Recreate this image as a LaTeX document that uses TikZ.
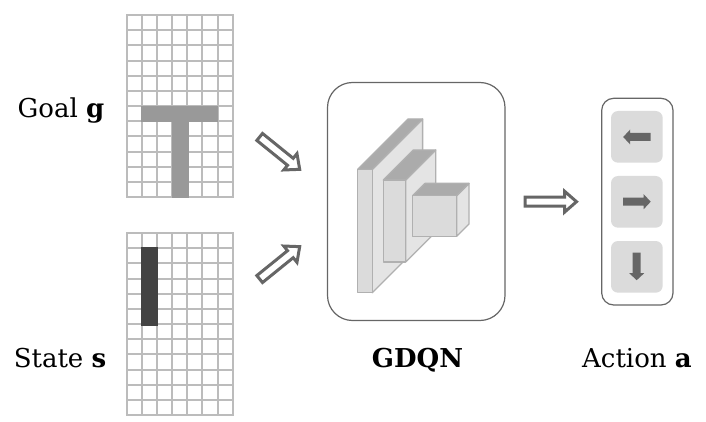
\documentclass[tikz,border=0pt]{standalone}
\usepackage{fontspec}
\setmainfont{DejaVu Serif}
\definecolor{gridc}{HTML}{B0B0B0}
\definecolor{gridsoft}{HTML}{BCBCBC}
\definecolor{arrowc}{HTML}{666666}
\definecolor{frontc}{HTML}{DBDBDB}
\definecolor{sidec}{HTML}{E4E4E4}
\definecolor{topc}{HTML}{ABABAB}
\definecolor{goalc}{HTML}{999999}
\definecolor{statec}{HTML}{434343}
\tikzset{
  lbl/.style={anchor=base,inner sep=0pt,font=\fontsize{26}{30}\selectfont,text=black},
  panel/.style={draw=arrowc,line width=1.2pt,fill=white},
  btn/.style={fill=frontc,rounded corners=7pt},
  face/.style={draw=gridc,line width=1.3pt,line join=round},
  hollow/.style={draw=arrowc,line width=3pt,fill=white,line join=miter},
  pics/bigarrow/.style={code={
    \path[hollow] (1.5,-4.5) -- (41,-4.5) -- (41,-10.5) -- (53,0) -- (41,10.5) -- (41,4.5) -- (1.5,4.5) -- cycle;
  }},
  pics/smallarrow/.style={code={
    \fill[arrowc] (0,-4) -- (20.5,-4) -- (20.5,-7.5) -- (27.5,0) -- (20.5,7.5) -- (20.5,4) -- (0,4) -- cycle;
  }}
}
\newcommand{\gridbox}[1]{% top y: lines sit on whole pixels so that all have one width
  \foreach \i in {0,...,7} {
    \pgfmathsetmacro{\gx}{round(126.5+15.2*\i)}
    \fill[gridsoft] (\gx-1,#1-1) rectangle (\gx+1,#1+183);
  }
  \foreach \j in {0,...,12} {
    \pgfmathsetmacro{\gy}{round(#1+15.167*\j)}
    \fill[gridsoft] (126,\gy-1) rectangle (234,\gy+1);
  }
}
\newcommand{\layer}[5]{% x1 x2 y1 y2 offset
  \fill[face,fill=sidec] (#2,#3) -- (#2+#5,#3-#5) -- (#2+#5,#4-#5) -- (#2,#4) -- cycle;
  \fill[face,fill=topc] (#1,#3) -- (#1+#5,#3-#5) -- (#2+#5,#3-#5) -- (#2,#3) -- cycle;
  \fill[face,fill=frontc] (#1,#3) rectangle (#2,#4);
}
\begin{document}
\begin{tikzpicture}[x=1pt,y=-1pt]
\useasboundingbox (0,0) rectangle (706,422);
% grids
\gridbox{15}
\gridbox{233}
\fill[goalc] (141,106) rectangle (218.3,122);
\fill[goalc] (172,122) rectangle (189,198);
\fill[statec] (141,247.3) rectangle (158,326);
% labels
\node[lbl] (goal) at (61,118) {Goal \textbf{g}};
\node[lbl] (state) at (60,367) {State \textbf{s}};
\node[lbl] (gdqn) at (417.5,367) {\textbf{GDQN}};
\node[lbl] (action) at (637,367) {Action \textbf{a}};
% hollow arrows
\pic[rotate=-39] at (258.5,136) {bigarrow};
\pic[rotate=39] at (258.5,280) {bigarrow};
\pic at (523.5,201.7) {bigarrow};
% network panel
\draw[panel,rounded corners=25pt] (327.5,82.5) rectangle (505,320.5);
\layer{357.7}{372.3}{169.3}{292.7}{50.3}
\layer{383.3}{405.7}{180}{262}{30}
\layer{412.7}{456.7}{195.7}{236.3}{12.3}
% action panel
\draw[panel,rounded corners=12pt] (601.7,98.3) rectangle (673,305);
\fill[btn] (611,111) rectangle (662.7,162.7);
\fill[btn] (611,176) rectangle (662.7,227.7);
\fill[btn] (611,241) rectangle (662.7,292.7);
\pic[rotate=180] at (650.7,137) {smallarrow};
\pic at (623.2,201.7) {smallarrow};
\pic[rotate=-90] at (636.7,252.7) {smallarrow};
\end{tikzpicture}
\end{document}
